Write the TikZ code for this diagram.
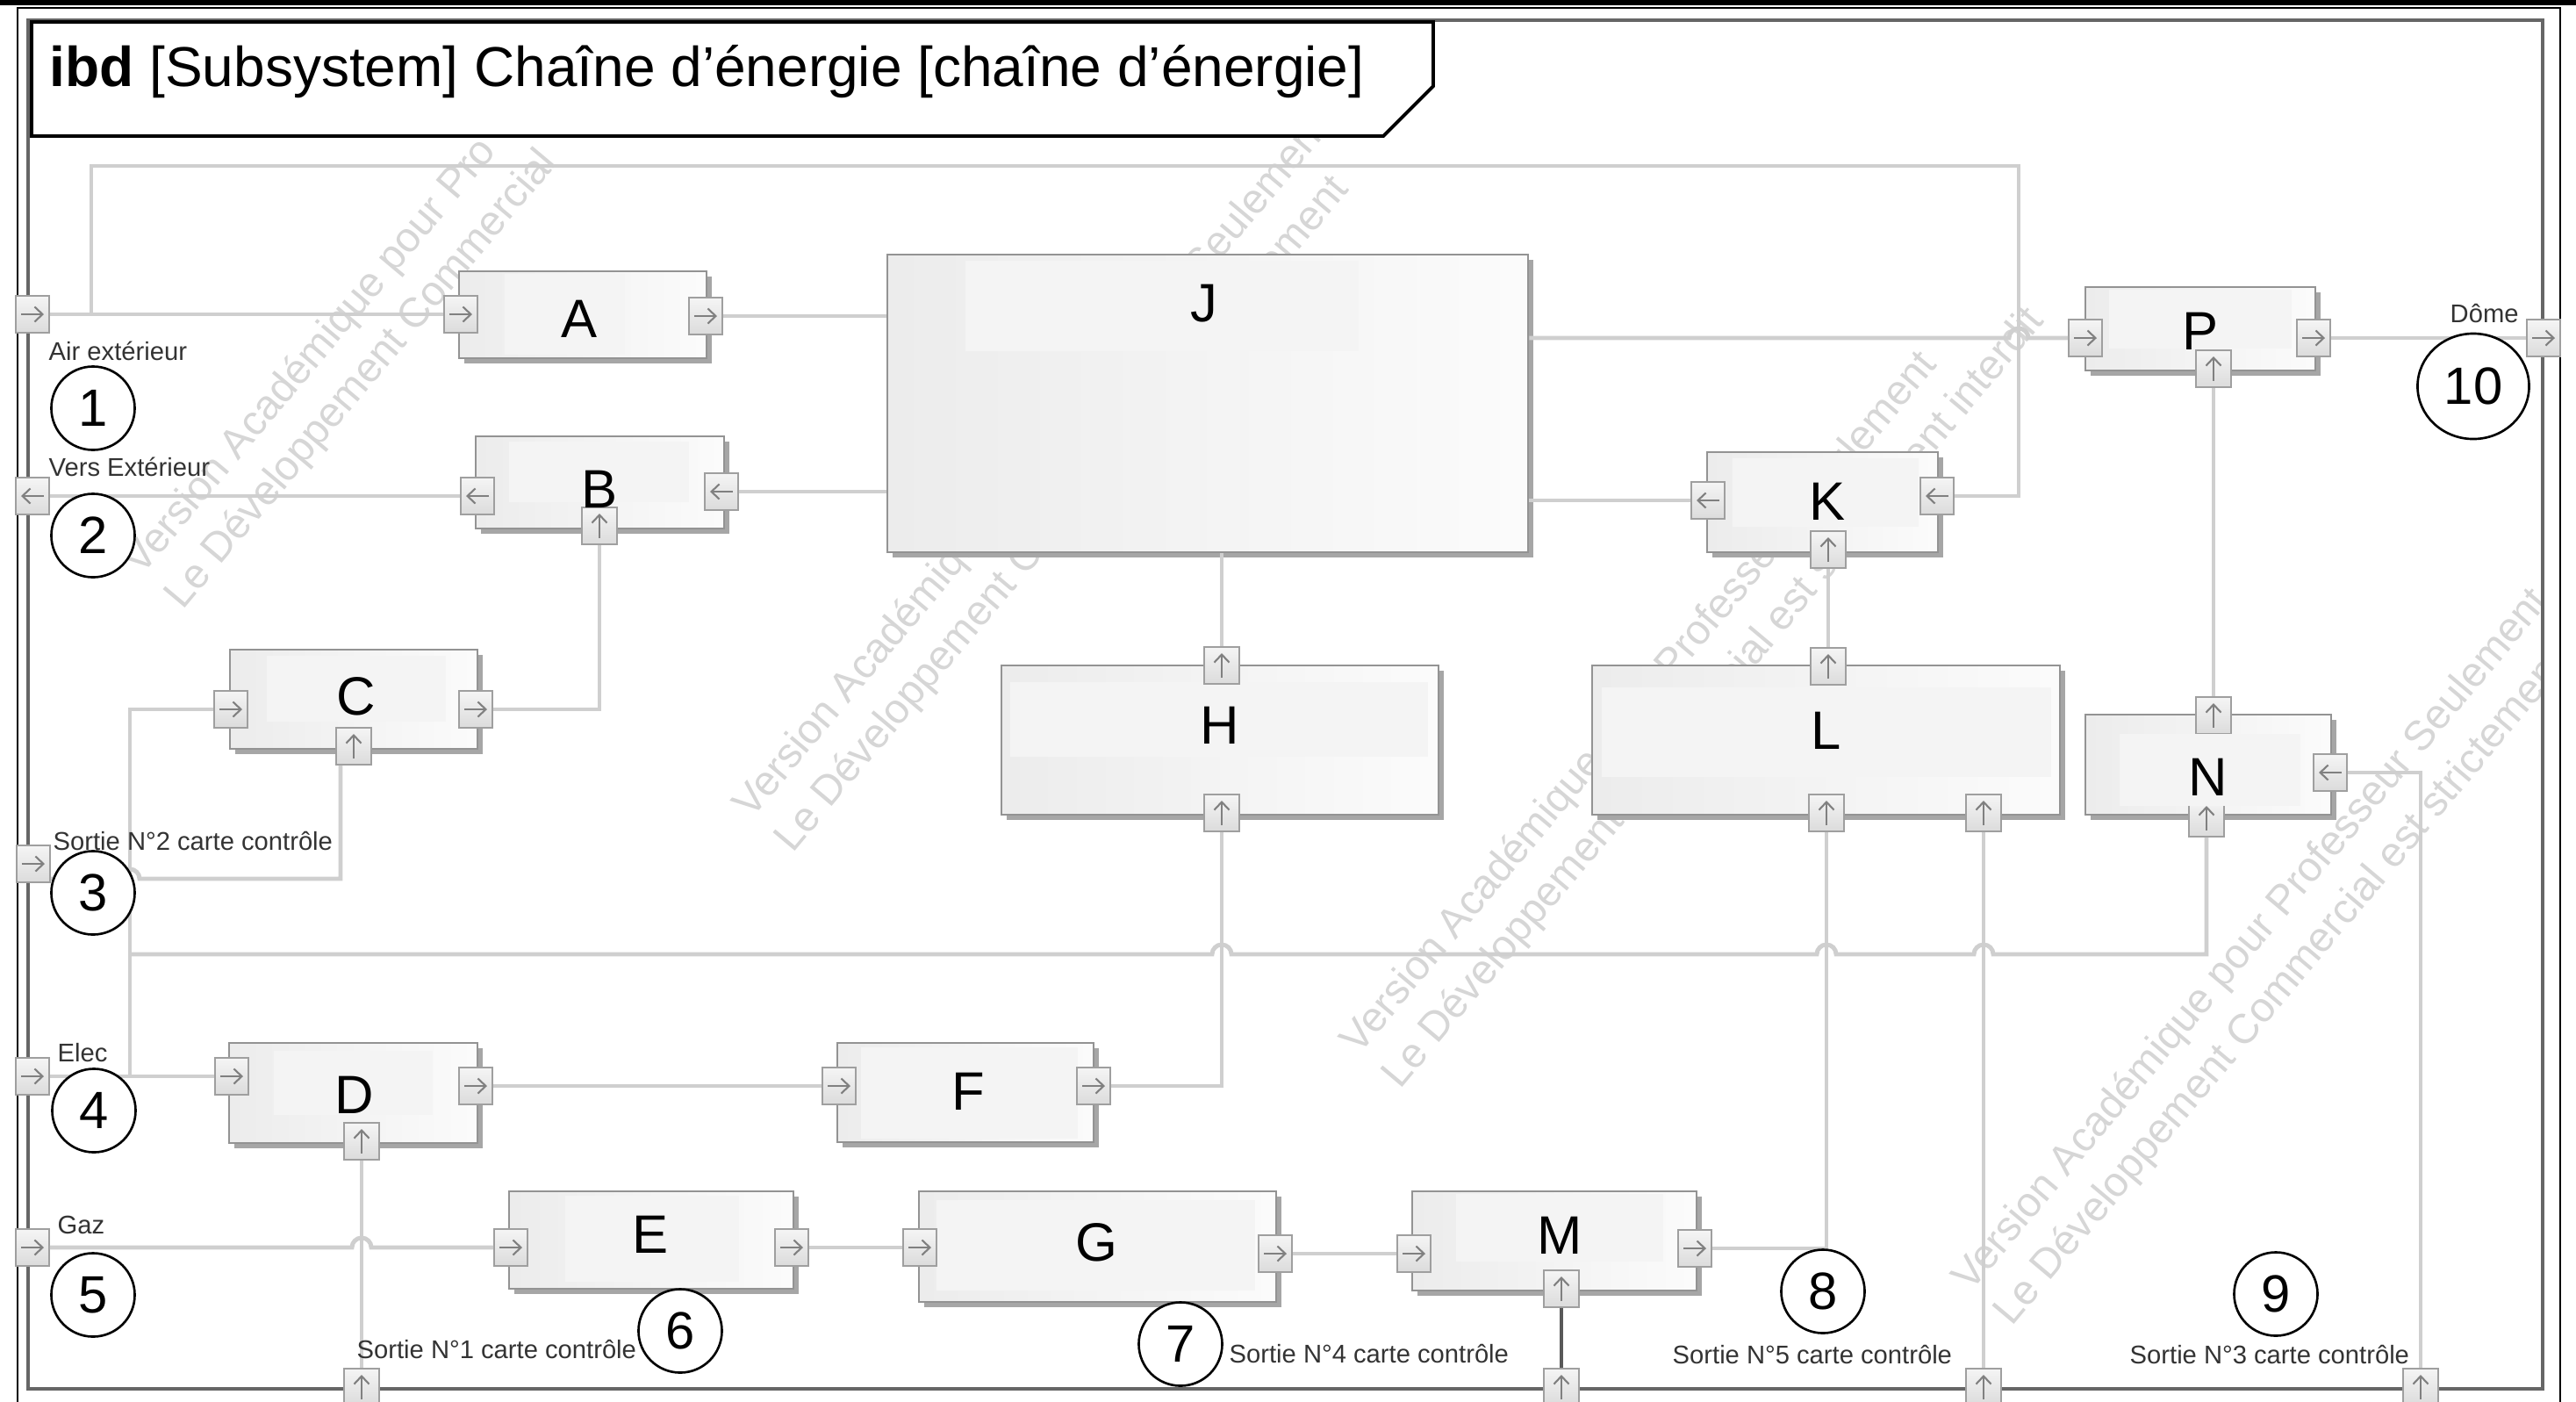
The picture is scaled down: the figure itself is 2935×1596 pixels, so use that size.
\documentclass[tikz,border=0pt]{standalone}
\usepackage{fontspec}
\setmainfont{Liberation Sans}
\usetikzlibrary{arrows.meta,shapes.geometric,shadows,fit}

\tikzset{
  wire/.style={draw=gray!38, line width=1.4pt},
  darkwire/.style={draw=black!65, line width=1.2pt},
  part/.style={draw=gray!85, line width=0.8pt, left color=gray!15, right color=gray!3,
    inner sep=0pt, drop shadow={shadow xshift=0.06cm, shadow yshift=-0.06cm, fill=gray!70, opacity=1}},
  labelbg/.style={fill=gray!9},
  boxlabel/.style={font=\fontsize{17.5}{20}\selectfont, text=black, inner sep=0pt},
  portbase/.style={draw=gray!75, line width=0.5pt, top color=gray!8, bottom color=gray!28,
    minimum width=0.38cm, minimum height=0.42cm, inner sep=0pt},
  parrow/.style={draw=gray, line width=0.6pt, -{Straight Barb[length=0.9mm,width=1.7mm]}},
  portR/.style={portbase, path picture={\draw[parrow]
    ([xshift=-0.13cm]path picture bounding box.center) -- ([xshift=0.13cm]path picture bounding box.center);}},
  portL/.style={portbase, path picture={\draw[parrow]
    ([xshift=0.13cm]path picture bounding box.center) -- ([xshift=-0.13cm]path picture bounding box.center);}},
  portU/.style={portbase, minimum width=0.40cm, path picture={\draw[parrow]
    ([yshift=-0.14cm]path picture bounding box.center) -- ([yshift=0.14cm]path picture bounding box.center);}},
  pname/.style={font=\fontsize{8.3}{10}\selectfont, text=black!80, inner sep=0pt, anchor=west},
  callout/.style={ellipse, draw=black, line width=0.75pt, fill=white, minimum width=0.95cm,
    minimum height=0.95cm, inner sep=0pt, font=\fontsize{17}{20}\selectfont},
  wm/.style={font=\fontsize{13.5}{16}\selectfont, text=black!16, rotate=50, anchor=base west, inner sep=0pt},
}

\begin{document}
\begin{tikzpicture}[x=0.01cm,y=-0.01cm]
\useasboundingbox (0,0) rectangle (2935,1596);
\fill[white] (0,0) rectangle (2935,1596);

% watermark, repeated along the diagonal
\begin{scope}
  \clip (32,23) rectangle (2897,1582);
  \node[wm] (wmA1) at (161,657)  {Version Académique pour Pro};
  \node[wm] (wmB1) at (208,696)  {Le Développement Commercial};
  \node[wm] (wmA2) at (856,934)  {Version Académique pour Professeur Seulement};
  \node[wm] (wmB2) at (903,973)  {Le Développement Commercial est strictement};
  \node[wm] (wmA3) at (1548,1203) {Version Académique pour Professeur Seulement};
  \node[wm] (wmB3) at (1595,1242) {Le Développement Commercial est strictement interdit};
  \node[wm] (wmA4) at (2245,1473) {Version Académique pour Professeur Seulement};
  \node[wm] (wmB4) at (2292,1512) {Le Développement Commercial est strictement};
\end{scope}

% sheet and diagram frame
\fill[black] (0,0) rectangle (2935,6);
\draw[black, line width=0.6pt] (20,1600) -- (20,9) -- (2917,9) -- (2917,1600);
\draw[black!60, line width=0.9pt] (32,23) rectangle (2897,1582);

% boundary ports
\node[portR] (airP)  at (37,358) {};
\node[portL] (versP) at (37,565) {};
\node[portR] (s2P)   at (38,984) {};
\node[portR] (elecP) at (37,1226) {};
\node[portR] (gazP)  at (37,1421) {};
\node[portR] (domeP) at (2898,385) {};
\node[portU] (s1P)   at (412,1580) {};
\node[portU] (s4P)   at (1779,1580) {};
\node[portU] (s5P)   at (2260,1580) {};
\node[portU] (s3P)   at (2758,1580) {};

% parts
\node[part, fit={(523,309) (805,408)}]   (A) {};
\node[part, fit={(542,497) (825,602)}]   (B) {};
\node[part, fit={(262,740) (544,853)}]   (C) {};
\node[part, fit={(261,1188) (544,1302)}] (D) {};
\node[part, fit={(580,1357) (904,1468)}] (E) {};
\node[part, fit={(954,1188) (1246,1301)}] (F) {};
\node[part, fit={(1047,1357) (1454,1483)}] (G) {};
\node[part, fit={(1141,758) (1639,928)}] (H) {};
\node[part, fit={(1011,290) (1741,629)}] (J) {};
\node[part, fit={(1945,515) (2208,629)}] (K) {};
\node[part, fit={(1814,758) (2347,928)}] (L) {};
\node[part, fit={(1609,1357) (1933,1470)}] (M) {};
\node[part, fit={(2376,814) (2656,928)}] (N) {};
\node[part, fit={(2376,327) (2638,422)}] (P) {};

% label areas
\fill[labelbg] (575,312) rectangle (712,404);
\fill[labelbg] (580,503) rectangle (785,572);
\fill[labelbg] (304,747) rectangle (508,822);
\fill[labelbg] (312,1197) rectangle (493,1270);
\fill[labelbg] (644,1362) rectangle (842,1460);
\fill[labelbg] (981,1193) rectangle (1228,1297);
\fill[labelbg] (1067,1367) rectangle (1430,1470);
\fill[labelbg] (1659,1360) rectangle (1895,1437);
\fill[labelbg] (1151,777) rectangle (1627,862);
\fill[labelbg] (1100,297) rectangle (1548,400);
\fill[labelbg] (1974,522) rectangle (2186,600);
\fill[labelbg] (1825,783) rectangle (2337,885);
\fill[labelbg] (2403,330) rectangle (2611,397);

% part ports
\node[portR] (Aw) at (525,358) {};
\node[portR] (Ae) at (804,360) {};
\node[portL] (Bw) at (544,565) {};
\node[portL] (Be) at (822,560) {};
\node[portU] (Bs) at (683,599) {};
\node[portR] (Cw) at (263,808) {};
\node[portR] (Ce) at (542,808) {};
\node[portU] (Cs) at (403,850) {};
\node[portR] (Dw) at (264,1226) {};
\node[portR] (De) at (542,1237) {};
\node[portU] (Ds) at (412,1300) {};
\node[portR] (Ew) at (582,1421) {};
\node[portR] (Ee) at (902,1421) {};
\node[portR] (Fw) at (956,1237) {};
\node[portR] (Fe) at (1246,1237) {};
\node[portR] (Gw) at (1048,1421) {};
\node[portR] (Ge) at (1453,1428) {};
\node[portR] (Mw) at (1611,1428) {};
\node[portR] (Me) at (1931,1422) {};
\node[portU] (Ms) at (1779,1468) {};
\node[portU] (Hn) at (1392,758) {};
\node[portU] (Hs) at (1392,926) {};
\node[portL] (Kw) at (1946,570) {};
\node[portL] (Ke) at (2207,565) {};
\node[portU] (Ks) at (2083,626) {};
\node[portU] (Ln) at (2083,759) {};
\node[portU] (Ls1) at (2081,926) {};
\node[portU] (Ls2) at (2260,926) {};
\node[portU] (Nn) at (2522,815) {};
\node[portL] (Ne) at (2655,880) {};
\node[portU] (Ns) at (2514,932) {};
\node[portR] (Pw) at (2376,385) {};
\node[portR] (Pe) at (2636,385) {};
\node[portU] (Ps) at (2522,420) {};

\fill[labelbg] (2415,836) rectangle (2621,918);

% routing points
\coordinate (tl) at (104,189);
\coordinate (tr) at (2300,189);
\coordinate (busT) at (148,808);
\coordinate (nb) at (148,1087);
\coordinate (s2L) at ([yshift=-0.17cm]s2P.east);
\coordinate (cL) at ([xshift=-0.15cm]Cs.south);
\coordinate (hA) at (nb -| Ls2);
\coordinate (hB) at (nb -| Ls1);
\coordinate (hC) at (nb -| Hs);
\coordinate (hD) at (s2L -| busT);
\coordinate (hE) at (gazP -| Ds);
\coordinate (hF) at (Pw -| tr);

% connectors
\draw[wire] (airP.east) -- (Aw.west);
\draw[wire] (tl |- airP) -- (tl) -- (tr) -- (tr |- Ke) -- (Ke.east);
\draw[wire] (Ae.east) -- (Ae.east -| J.west);
\draw[wire] (J.west |- Be) -- (Be.east);
\draw[wire] (Bw.west) -- (versP.east);
\draw[wire] (Ce.east) -- (Ce.east -| Bs) -- (Bs.south);
\draw[wire] (Cw.west) -- (Cw.west -| busT) -- (busT |- elecP);
\draw[wire] (s2L) -- ([xshift=-0.11cm]hD) arc[start angle=180,end angle=0,radius=0.11cm]
  -- (s2L -| cL) -- (cL);
\draw[wire] (elecP.east) -- (Dw.west);
\draw[wire] (De.east) -- (Fw.west);
\draw[wire] (Fe.east) -- (Fe.east -| Hs) -- (Hs.south);
\draw[wire] (J.south -| Hn) -- (Hn.north);
\draw[wire] (gazP.east) -- ([xshift=-0.11cm]hE) arc[start angle=180,end angle=0,radius=0.11cm] -- (Ew.west);
\draw[wire] (Ds.south) -- (s1P.north);
\draw[wire] (Ee.east) -- (Gw.west);
\draw[wire] (Ge.east) -- (Mw.west);
\draw[darkwire] (Ms.south) -- (s4P.north);
\draw[wire] (Me.east) -- (Me.east -| Ls1) -- (Ls1.south);
\draw[wire] (Ls2.south) -- (s5P.north);
\draw[wire] (Ns.south) -- (Ns.south |- nb)
  -- ([xshift=0.11cm]hA) arc[start angle=0,end angle=180,radius=0.11cm]
  -- ([xshift=0.11cm]hB) arc[start angle=0,end angle=180,radius=0.11cm]
  -- ([xshift=0.11cm]hC) arc[start angle=0,end angle=180,radius=0.11cm]
  -- (nb);
\draw[wire] (J.east |- Pw) -- ([xshift=-0.11cm]hF) arc[start angle=180,end angle=0,radius=0.11cm] -- (Pw.west);
\draw[wire] (J.east |- Kw) -- (Kw.west);
\draw[wire] (Ks.south) -- (Ln.north);
\draw[wire] (Ps.south) -- (Nn.north);
\draw[wire] (Pe.east) -- (domeP.west);
\draw[wire] (Ne.east) -- (Ne.east -| s3P) -- (s3P.north);

% part names
\node[boxlabel] (Alab) at (660,363) {A};
\node[boxlabel] (Blab) at (683,557) {B};
\node[boxlabel] (Clab) at (406,793) {C};
\node[boxlabel] (Dlab) at (404,1247) {D};
\node[boxlabel] (Elab) at (741,1406) {E};
\node[boxlabel] (Flab) at (1103,1243) {F};
\node[boxlabel] (Glab) at (1249,1415) {G};
\node[boxlabel] (Hlab) at (1390,826) {H};
\node[boxlabel] (Jlab) at (1372,346) {J};
\node[boxlabel] (Klab) at (2082,571) {K};
\node[boxlabel] (Llab) at (2081,832) {L};
\node[boxlabel] (Mlab) at (1777,1407) {M};
\node[boxlabel] (Nlab) at (2516,885) {N};
\node[boxlabel] (Plab) at (2507,377) {P};

% port names
\node[pname] (tAir)  at (55,400)   {Air extérieur};
\node[pname] (tVers) at (55,532)   {Vers Extérieur};
\node[pname] (tS2)   at (60,958)   {Sortie N°2 carte contrôle};
\node[pname] (tElec) at (65,1199)  {Elec};
\node[pname] (tGaz)  at (65,1395)  {Gaz};
\node[pname] (tS1)   at (406,1537) {Sortie N°1 carte contrôle};
\node[pname] (tS4)   at (1400,1542) {Sortie N°4 carte contrôle};
\node[pname] (tS5)   at (1905,1543) {Sortie N°5 carte contrôle};
\node[pname] (tS3)   at (2426,1543) {Sortie N°3 carte contrôle};
\node[pname] (tDome) at (2791,357) {Dôme};

% numbered callouts
\node[callout] (n1) at (106,465) {1};
\node[callout] (n2) at (106,610) {2};
\node[callout] (n3) at (106,1017) {3};
\node[callout] (n4) at (107,1265) {4};
\node[callout] (n5) at (106,1475) {5};
\node[callout] (n6) at (775,1516) {6};
\node[callout] (n7) at (1345,1531) {7};
\node[callout] (n8) at (2077,1471) {8};
\node[callout] (n9) at (2593,1474) {9};
\node[callout, minimum width=1.27cm, minimum height=1.2cm] (n10) at (2818,440) {10};

% diagram header
\draw[black, line width=1.1pt, fill=white] (36,25) -- (1633,25) -- (1633,98) -- (1576,155) -- (36,155) -- cycle;
\node[anchor=base west, inner sep=0pt, font=\fontsize{18.2}{22}\selectfont] (title) at (56,98)
  {\textbf{ibd} [Subsystem] Chaîne d’énergie [chaîne d’énergie]};
\end{tikzpicture}
\end{document}
